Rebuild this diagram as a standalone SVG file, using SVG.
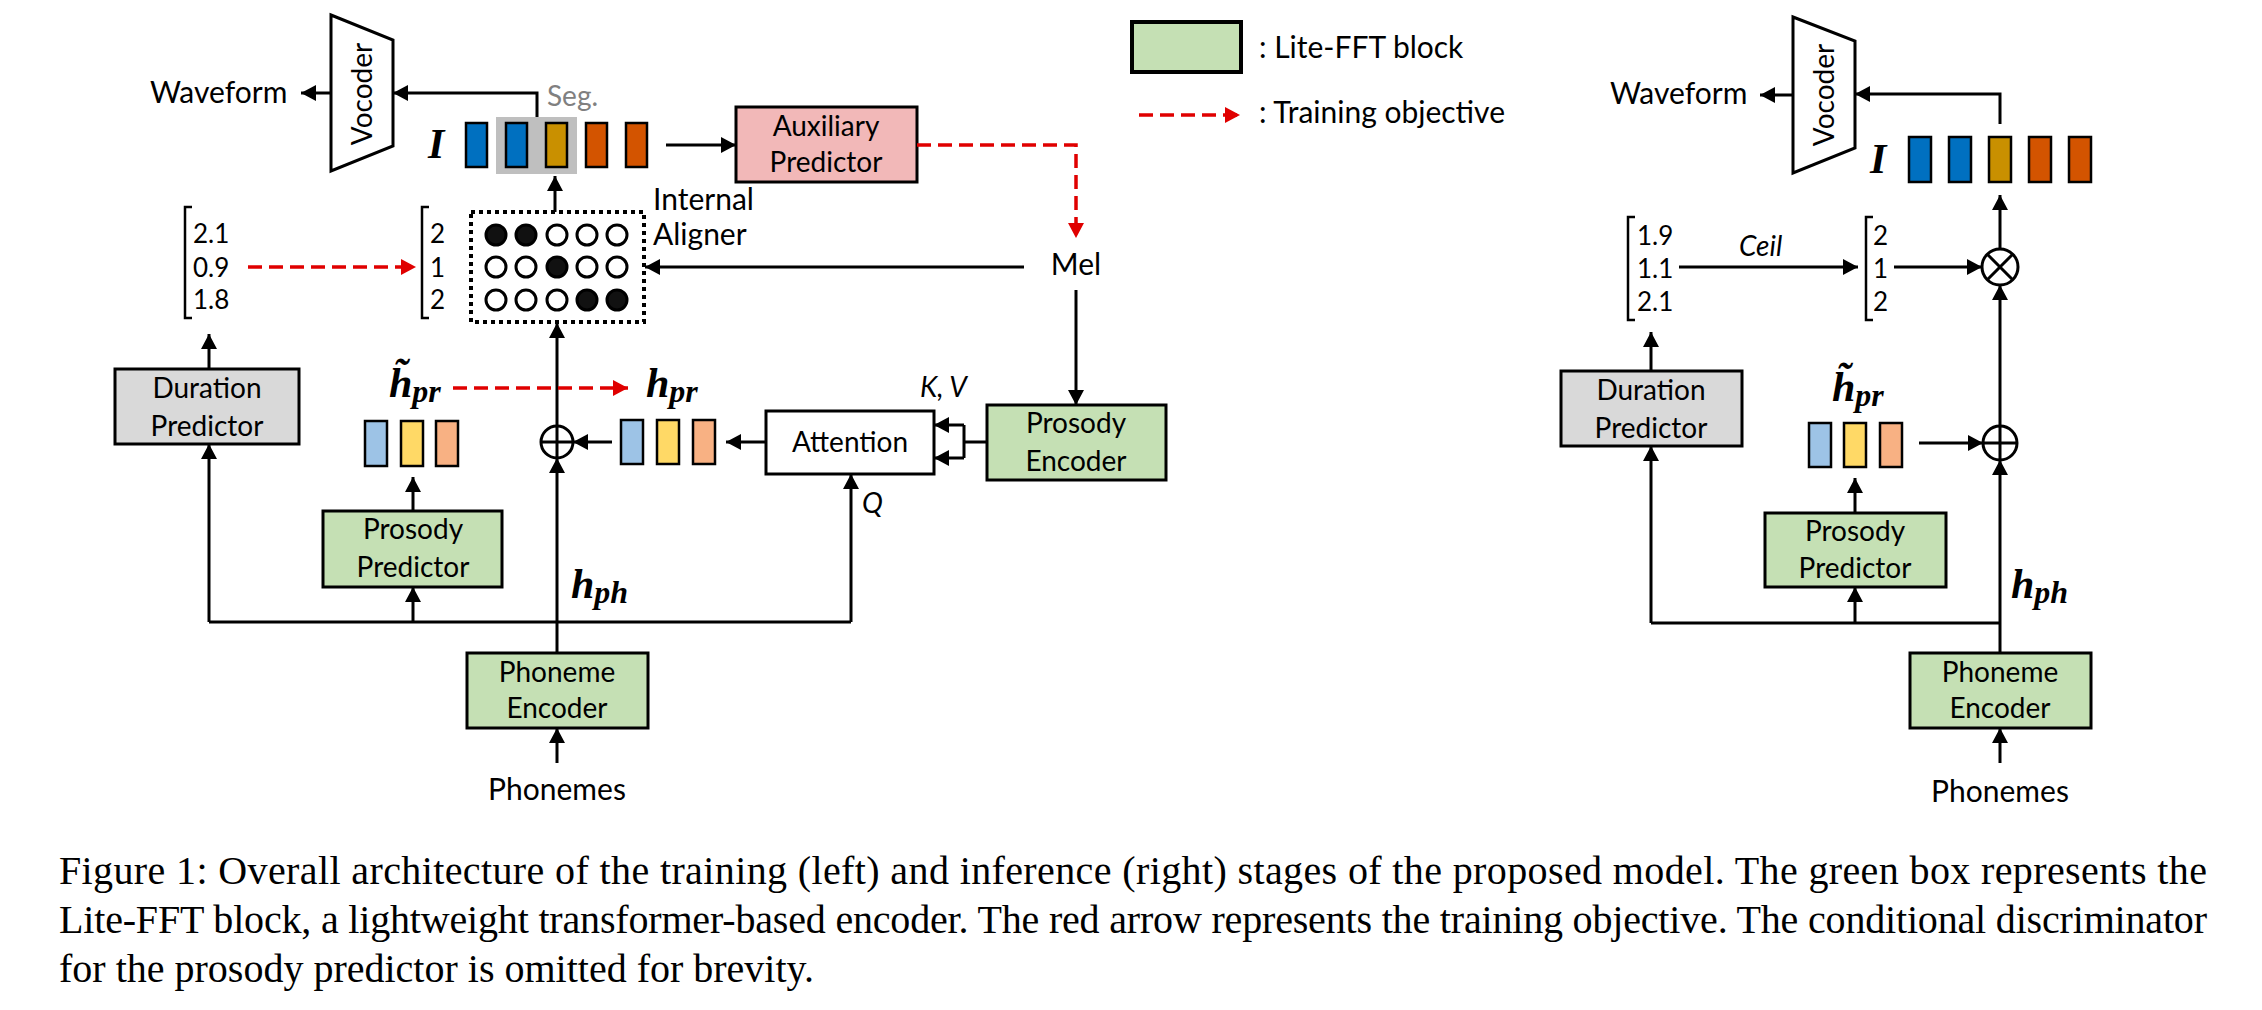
<svg xmlns="http://www.w3.org/2000/svg" width="2262" height="1010" viewBox="0 0 2262 1010">
<style>
  .ln{fill:none;stroke:#000;stroke-width:3}
  .red{fill:none;stroke:#e00000;stroke-width:3.5;stroke-dasharray:14 7}
  .box{stroke:#000;stroke-width:3}
  .t{font-family:Lato,"Liberation Sans",sans-serif;font-size:28px;fill:#000;text-anchor:middle}
  .tl{font-family:Lato,"Liberation Sans",sans-serif;font-size:30px;fill:#000}
  .it{font-family:Lato,"Liberation Sans",sans-serif;font-style:italic;font-size:28px;fill:#000}
  .num{font-family:Lato,"Liberation Sans",sans-serif;font-size:26px;fill:#000}
  .m{font-family:"Liberation Serif",serif;font-weight:bold;font-style:italic;font-size:42px;fill:#000}
  .sub{font-size:32px}
  .cap{font-family:"Liberation Serif",serif;font-size:40px;fill:#000}
  .br{fill:none;stroke:#000;stroke-width:2.5}
  .green{fill:#c5e0b4}
  .b1{fill:#0070c0;stroke:#000;stroke-width:2.5}
  .b2{fill:#c99000;stroke:#000;stroke-width:2.5}
  .b3{fill:#d35400;stroke:#000;stroke-width:2.5}
  .l1{fill:#9dc3e6;stroke:#000;stroke-width:2.5}
  .l2{fill:#ffd966;stroke:#000;stroke-width:2.5}
  .l3{fill:#f8b183;stroke:#000;stroke-width:2.5}
  .c0{fill:#fff;stroke:#000;stroke-width:3}
  .c1{fill:#111;stroke:#000;stroke-width:3}
</style>
<defs>
  <marker id="ah" markerUnits="userSpaceOnUse" markerWidth="16" markerHeight="16" refX="15" refY="8" orient="auto"><path d="M0,0 L15,8 L0,16 z" fill="#000"/></marker>
  <marker id="ar" markerUnits="userSpaceOnUse" markerWidth="16" markerHeight="16" refX="15" refY="8" orient="auto"><path d="M0,0 L15,8 L0,16 z" fill="#e00000"/></marker>
</defs>

<!-- ============ LEFT (training) ============ -->
<g id="L-vocoder">
  <polygon points="331,15 393,40 393,146 331,171" fill="#fff" class="box"/>
  <text class="t" transform="translate(372,94) rotate(-90)">Vocoder</text>
</g>
<g id="L-waveform"><text class="tl" x="150" y="103">Waveform</text></g>
<g id="L-seq">
  <rect x="496" y="117" width="81" height="57" fill="#bfbfbf"/>
  <text class="m" x="428" y="158" font-size="44">I</text>
  <rect class="b1" x="466" y="123" width="21" height="44"/>
  <rect class="b1" x="506" y="123" width="21" height="44"/>
  <rect class="b2" x="546" y="123" width="21" height="44"/>
  <rect class="b3" x="586" y="123" width="21" height="44"/>
  <rect class="b3" x="626" y="123" width="21" height="44"/>
  <text x="547" y="106" font-family="Lato,'Liberation Sans',sans-serif" font-size="28" fill="#808080">Seg.</text>
</g>
<g id="L-aux">
  <rect x="736" y="107" width="181" height="75" fill="#f2b8b8" class="box"/>
  <text class="t" x="826" y="136">Auxiliary</text>
  <text class="t" x="826" y="172">Predictor</text>
</g>
<g id="L-aligner">
  <rect x="471" y="212" width="173" height="110" fill="none" stroke="#000" stroke-width="4" stroke-dasharray="4 4"/>
  <circle class="c1" cx="496" cy="235" r="10"/><circle class="c1" cx="526" cy="235" r="10"/><circle class="c0" cx="557" cy="235" r="10"/><circle class="c0" cx="587" cy="235" r="10"/><circle class="c0" cx="617" cy="235" r="10"/>
  <circle class="c0" cx="496" cy="267" r="10"/><circle class="c0" cx="526" cy="267" r="10"/><circle class="c1" cx="557" cy="267" r="10"/><circle class="c0" cx="587" cy="267" r="10"/><circle class="c0" cx="617" cy="267" r="10"/>
  <circle class="c0" cx="496" cy="300" r="10"/><circle class="c0" cx="526" cy="300" r="10"/><circle class="c0" cx="557" cy="300" r="10"/><circle class="c1" cx="587" cy="300" r="10"/><circle class="c1" cx="617" cy="300" r="10"/>
  <text class="tl" x="653" y="210" font-size="29">Internal</text>
  <text class="tl" x="653" y="245" font-size="29">Aligner</text>
</g>
<g id="L-dur-int">
  <path class="br" d="M429,207 L422,207 L422,318 L429,318"/>
  <text class="num" x="430" y="243">2</text>
  <text class="num" x="430" y="277">1</text>
  <text class="num" x="430" y="309">2</text>
</g>
<g id="L-dur-pred">
  <path class="br" d="M192,207 L185,207 L185,318 L192,318"/>
  <text class="num" x="193" y="243">2.1</text>
  <text class="num" x="193" y="277">0.9</text>
  <text class="num" x="193" y="309">1.8</text>
</g>
<g id="L-mel"><text class="tl" x="1076" y="275" text-anchor="middle">Mel</text></g>
<g id="L-duration">
  <rect x="115" y="369" width="184" height="75" fill="#d9d9d9" class="box"/>
  <text class="t" x="207" y="398">Duration</text>
  <text class="t" x="207" y="436">Predictor</text>
</g>
<g id="L-hpr-tilde">
  <text class="m" x="389" y="397">h&#x303;<tspan class="sub" dy="5">pr</tspan></text>
  <rect class="l1" x="365" y="421" width="22" height="45"/>
  <rect class="l2" x="401" y="421" width="22" height="45"/>
  <rect class="l3" x="436" y="421" width="22" height="45"/>
</g>
<g id="L-hpr">
  <text class="m" x="646" y="397">h<tspan class="sub" dy="5">pr</tspan></text>
  <rect class="l1" x="621" y="420" width="22" height="44"/>
  <rect class="l2" x="657" y="420" width="22" height="44"/>
  <rect class="l3" x="693" y="420" width="22" height="44"/>
</g>
<g id="L-oplus">
  <circle cx="557" cy="442" r="16" fill="#fff" stroke="#000" stroke-width="3"/>
  <path class="ln" d="M541,442 H573 M557,426 V458"/>
</g>
<g id="L-attention">
  <rect x="766" y="411" width="168" height="63" fill="#fff" class="box"/>
  <text class="t" x="850" y="452">Attention</text>
  <text class="it" x="920" y="397">K, V</text>
  <text class="it" x="862" y="513">Q</text>
</g>
<g id="L-prosenc">
  <rect x="987" y="405" width="179" height="75" class="box green"/>
  <text class="t" x="1076" y="433">Prosody</text>
  <text class="t" x="1076" y="471">Encoder</text>
</g>
<g id="L-prospred">
  <rect x="323" y="511" width="179" height="76" class="box green"/>
  <text class="t" x="413" y="539">Prosody</text>
  <text class="t" x="413" y="577">Predictor</text>
</g>
<g id="L-hph"><text class="m" x="571" y="598">h<tspan class="sub" dy="5">ph</tspan></text></g>
<g id="L-phenc">
  <rect x="467" y="653" width="181" height="75" class="box green"/>
  <text class="t" x="557" y="682">Phoneme</text>
  <text class="t" x="557" y="718">Encoder</text>
</g>
<g id="L-phonemes"><text class="tl" x="557" y="800" text-anchor="middle">Phonemes</text></g>

<!-- ============ LEGEND ============ -->
<g id="legend">
  <rect x="1132" y="22" width="109" height="50" fill="#c5e0b4" stroke="#000" stroke-width="4"/>
  <text class="tl" x="1259" y="58" font-size="32">: Lite-FFT block</text>
  <path class="red" d="M1139,115 H1240" marker-end="url(#ar)"/>
  <text class="tl" x="1259" y="123" font-size="32">: Training objective</text>
</g>

<!-- ============ RIGHT (inference) ============ -->
<g id="R-vocoder">
  <polygon points="1793,17 1855,41 1855,148 1793,173" fill="#fff" class="box"/>
  <text class="t" transform="translate(1834,95) rotate(-90)">Vocoder</text>
</g>
<g id="R-waveform"><text class="tl" x="1610" y="104">Waveform</text></g>
<g id="R-seq">
  <text class="m" x="1870" y="173" font-size="44">I</text>
  <rect class="b1" x="1909" y="137" width="22" height="45"/>
  <rect class="b1" x="1949" y="137" width="22" height="45"/>
  <rect class="b2" x="1989" y="137" width="22" height="45"/>
  <rect class="b3" x="2029" y="137" width="22" height="45"/>
  <rect class="b3" x="2069" y="137" width="22" height="45"/>
</g>
<g id="R-dur-pred">
  <path class="br" d="M1635,217 L1628,217 L1628,320 L1635,320"/>
  <text class="num" x="1637" y="245">1.9</text>
  <text class="num" x="1637" y="278">1.1</text>
  <text class="num" x="1637" y="311">2.1</text>
</g>
<g id="R-ceil"><text class="it" x="1739" y="256" font-size="27">Ceil</text></g>
<g id="R-dur-int">
  <path class="br" d="M1873,217 L1866,217 L1866,320 L1873,320"/>
  <text class="num" x="1873" y="245">2</text>
  <text class="num" x="1873" y="278">1</text>
  <text class="num" x="1873" y="311">2</text>
</g>
<g id="R-otimes">
  <circle cx="2000" cy="267" r="18" fill="#fff" stroke="#000" stroke-width="3"/>
  <path class="ln" d="M1987.3,254.3 L2012.7,279.7 M2012.7,254.3 L1987.3,279.7"/>
</g>
<g id="R-duration">
  <rect x="1561" y="371" width="181" height="75" fill="#d9d9d9" class="box"/>
  <text class="t" x="1651" y="400">Duration</text>
  <text class="t" x="1651" y="438">Predictor</text>
</g>
<g id="R-hpr-tilde">
  <text class="m" x="1832" y="401">h&#x303;<tspan class="sub" dy="5">pr</tspan></text>
  <rect class="l1" x="1809" y="423" width="22" height="44"/>
  <rect class="l2" x="1844" y="423" width="22" height="44"/>
  <rect class="l3" x="1880" y="423" width="22" height="44"/>
</g>
<g id="R-oplus">
  <circle cx="2000" cy="443" r="17" fill="#fff" stroke="#000" stroke-width="3"/>
  <path class="ln" d="M1983,443 H2017 M2000,426 V460"/>
</g>
<g id="R-prospred">
  <rect x="1765" y="513" width="181" height="74" class="box green"/>
  <text class="t" x="1855" y="541">Prosody</text>
  <text class="t" x="1855" y="578">Predictor</text>
</g>
<g id="R-hph"><text class="m" x="2011" y="598">h<tspan class="sub" dy="5">ph</tspan></text></g>
<g id="R-phenc">
  <rect x="1910" y="653" width="181" height="75" class="box green"/>
  <text class="t" x="2000" y="682">Phoneme</text>
  <text class="t" x="2000" y="718">Encoder</text>
</g>
<g id="R-phonemes"><text class="tl" x="2000" y="802" text-anchor="middle">Phonemes</text></g>

<!-- ============ CONNECTORS ============ -->
<g id="connectors">
  <!-- left -->
  <path class="ln" d="M557,763 V728" marker-end="url(#ah)"/>
  <path class="ln" d="M557,653 V458" marker-end="url(#ah)"/>
  <path class="ln" d="M209,622 H851"/>
  <path class="ln" d="M209,622 V444" marker-end="url(#ah)"/>
  <path class="ln" d="M413,622 V587" marker-end="url(#ah)"/>
  <path class="ln" d="M851,622 V474" marker-end="url(#ah)"/>
  <path class="ln" d="M209,369 V334" marker-end="url(#ah)"/>
  <path class="ln" d="M413,511 V477" marker-end="url(#ah)"/>
  <path class="ln" d="M557,426 V323" marker-end="url(#ah)"/>
  <path class="ln" d="M555,212 V176" marker-end="url(#ah)"/>
  <path class="ln" d="M537,117 V93 H393" marker-end="url(#ah)"/>
  <path class="ln" d="M331,93 H301" marker-end="url(#ah)"/>
  <path class="ln" d="M666,145 H736" marker-end="url(#ah)"/>
  <path class="red" d="M917,145 H1076 V238" marker-end="url(#ar)"/>
  <path class="ln" d="M1024,267 H645" marker-end="url(#ah)"/>
  <path class="ln" d="M1076,290 V405" marker-end="url(#ah)"/>
  <path class="ln" d="M987,442 H964 M964,425 V458"/>
  <path class="ln" d="M964,425 H934" marker-end="url(#ah)"/>
  <path class="ln" d="M964,458 H934" marker-end="url(#ah)"/>
  <path class="ln" d="M766,442 H726" marker-end="url(#ah)"/>
  <path class="ln" d="M612,442 H573" marker-end="url(#ah)"/>
  <path class="red" d="M453,388 H628" marker-end="url(#ar)"/>
  <path class="red" d="M248,267 H416" marker-end="url(#ar)"/>
  <!-- right -->
  <path class="ln" d="M2000,763 V728" marker-end="url(#ah)"/>
  <path class="ln" d="M2000,653 V460" marker-end="url(#ah)"/>
  <path class="ln" d="M1651,623 H2000"/>
  <path class="ln" d="M1651,623 V446" marker-end="url(#ah)"/>
  <path class="ln" d="M1855,623 V587" marker-end="url(#ah)"/>
  <path class="ln" d="M1651,371 V332" marker-end="url(#ah)"/>
  <path class="ln" d="M1855,513 V478" marker-end="url(#ah)"/>
  <path class="ln" d="M1919,443 H1983" marker-end="url(#ah)"/>
  <path class="ln" d="M2000,426 V285" marker-end="url(#ah)"/>
  <path class="ln" d="M2000,249 V195" marker-end="url(#ah)"/>
  <path class="ln" d="M2000,124 V94 H1855" marker-end="url(#ah)"/>
  <path class="ln" d="M1793,95 H1760" marker-end="url(#ah)"/>
  <path class="ln" d="M1679,267 H1858" marker-end="url(#ah)"/>
  <path class="ln" d="M1894,267 H1982" marker-end="url(#ah)"/>
</g>

<!-- ============ CAPTION ============ -->
<g id="caption">
  <text class="cap" x="59" y="884" textLength="2148" lengthAdjust="spacing">Figure 1: Overall architecture of the training (left) and inference (right) stages of the proposed model. The green box represents the</text>
  <text class="cap" x="59" y="933" textLength="2148" lengthAdjust="spacing">Lite-FFT block, a lightweight transformer-based encoder. The red arrow represents the training objective. The conditional discriminator</text>
  <text class="cap" x="59" y="982">for the prosody predictor is omitted for brevity.</text>
</g>
</svg>
